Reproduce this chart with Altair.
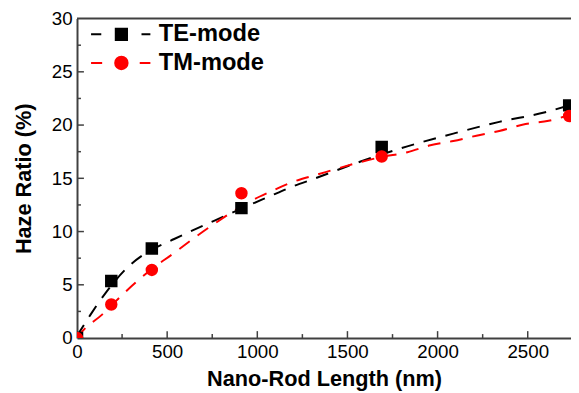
import altair as alt
import pandas as pd

modes = ["TE-mode", "TM-mode"]
colors = ["#000000", "#ff0000"]

# measured points
te_len = [0, 190, 415, 912, 1690, 2730]
te_haze = [0, 5.35, 8.4, 12.2, 17.95, 21.85]
tm_len = [0, 190, 415, 912, 1690, 2730]
tm_haze = [0, 3.15, 6.4, 13.6, 17.05, 20.85]

# fitted (dashed) curves
te_fit_len = [0, 75, 157, 284, 375, 539, 666, 812, 958, 1067, 1176, 1322, 1577, 1832, 2087, 2342, 2597, 2740]
te_fit_haze = [0.2, 2.2, 4.2, 6.7, 7.9, 9.3, 10.3, 11.4, 12.5, 13.3, 14.1, 15.0, 16.6, 18.0, 19.2, 20.3, 21.2, 21.9]
tm_fit_len = [0, 28, 139, 266, 394, 539, 666, 794, 940, 1067, 1195, 1322, 1690, 1833, 1960, 2087, 2215, 2342, 2488, 2616, 2740]
tm_fit_haze = [0, 0.6, 2.2, 4.3, 6.2, 8.0, 9.6, 11.1, 12.65, 13.7, 14.65, 15.3, 17.0, 17.45, 18.1, 18.5, 19.0, 19.45, 20.1, 20.4, 21.0]

x_major = [500, 1000, 1500, 2000, 2500]
x_minor = [250, 750, 1250, 1750, 2250]
y_major = [5, 10, 15, 20, 25]
y_minor = [2.5, 7.5, 12.5, 17.5, 22.5, 27.5]

W, H = 501, 324
FONT = "Liberation Sans"
AXC = "#404040"

xs = alt.Scale(domain=[0, 2740], nice=False, zero=False)
ys = alt.Scale(domain=[0, 30], nice=False)

pts = pd.DataFrame({"len": te_len + tm_len, "haze": te_haze + tm_haze,
                    "mode": ["TE-mode"] * len(te_len) + ["TM-mode"] * len(tm_len)})
te_fit = pd.DataFrame({"len": te_fit_len, "haze": te_fit_haze})
tm_fit = pd.DataFrame({"len": tm_fit_len, "haze": tm_fit_haze})

xax = alt.Axis(values=[0, 500, 1000, 1500, 2000, 2500], format="d", grid=False, ticks=False,
               domainColor=AXC, domainWidth=2, labelPadding=5, titlePadding=7,
               labelFlush=False)
yax = alt.Axis(values=[0, 5, 10, 15, 20, 25, 30], format="d", grid=False, ticks=False,
               domainColor=AXC, domainWidth=2, labelPadding=5, titlePadding=16,
               labelFlush=False)
XT = "Nano-Rod Length (nm)"
YT = "Haze Ratio (%)"
X = alt.X("len:Q", scale=xs, title=XT, axis=xax)
Y = alt.Y("haze:Q", scale=ys, title=YT, axis=yax)

dash = [13, 10]
te_line = alt.Chart(te_fit).mark_line(color="#000000", strokeWidth=2, strokeDash=dash,
                                      interpolate="monotone", clip=True).encode(x=X, y=Y)
tm_line = alt.Chart(tm_fit).mark_line(color="#ff0000", strokeWidth=2, strokeDash=dash,
                                      interpolate="monotone", clip=True).encode(x=X, y=Y)

te_pts = alt.Chart(pts).transform_filter("datum.mode == 'TE-mode'").mark_point(
    shape="square", filled=True, size=160, color="#000000", opacity=1, clip=True).encode(x=X, y=Y)
tm_pts = alt.Chart(pts).transform_filter("datum.mode == 'TM-mode'").mark_point(
    shape="circle", filled=True, size=160, color="#ff0000", opacity=1, clip=True).encode(x=X, y=Y)

# legend glyphs: dash - marker - dash (path units: 15 px each)
te_sym = "M-2.05,0H-1.36M1.36,0H1.96M-0.38,-0.38H0.38V0.38H-0.38Z"
tm_sym = "M-2.05,0H-1.3M1.24,0H1.96M0.42,0A0.42,0.42,0,1,1,-0.42,0A0.42,0.42,0,1,1,0.42,0Z"

leg = alt.Legend(orient="none", legendX=29, legendY=0, title=None,
                 symbolSize=900, symbolStrokeWidth=2,
                 labelFont=FONT, labelFontSize=24, labelFontWeight="bold",
                 labelColor="#000000", labelOffset=22, rowPadding=1, padding=0)
legend_layer = alt.Chart(pts).transform_filter("datum.len < 0").mark_point(
    filled=True, opacity=1).encode(
    x=X, y=Y,
    fill=alt.Fill("mode:N", scale=alt.Scale(domain=modes, range=colors), legend=leg),
    stroke=alt.Stroke("mode:N", scale=alt.Scale(domain=modes, range=colors), legend=leg),
    shape=alt.Shape("mode:N", scale=alt.Scale(domain=modes, range=[te_sym, tm_sym]), legend=leg),
)

xmaj = alt.Chart(pd.DataFrame({"len": x_major})).mark_rule(color=AXC, strokeWidth=1.5).encode(
    x=X, y=alt.value(H), y2=alt.value(H - 7))
xmin = alt.Chart(pd.DataFrame({"len": x_minor})).mark_rule(color=AXC, strokeWidth=1.5).encode(
    x=X, y=alt.value(H), y2=alt.value(H - 4))
ymaj = alt.Chart(pd.DataFrame({"haze": y_major})).mark_rule(color=AXC, strokeWidth=1.5).encode(
    y=Y, x=alt.value(0), x2=alt.value(7))
ymin = alt.Chart(pd.DataFrame({"haze": y_minor})).mark_rule(color=AXC, strokeWidth=1.5).encode(
    y=Y, x=alt.value(0), x2=alt.value(4))
top = alt.Chart(pd.DataFrame({"haze": [30]})).mark_rule(color=AXC, strokeWidth=2).encode(
    x=alt.value(0), x2=alt.value(W + 2), y=Y)

chart = alt.layer(
    xmaj, xmin, ymaj, ymin, top, te_line, tm_line, te_pts, tm_pts, legend_layer
).properties(
    width=W, height=H,
    autosize=alt.AutoSizeParams(type="none"),
    padding={"left": 70, "top": 8, "right": 0, "bottom": 52},
).configure_view(stroke=None).configure_axis(
    labelFont=FONT, labelFontSize=19, labelColor="#000000",
    titleFont=FONT, titleFontSize=22, titleFontWeight="bold", titleColor="#000000",
)

chart.save("out.html", embed_options={"renderer": "svg", "actions": False})
